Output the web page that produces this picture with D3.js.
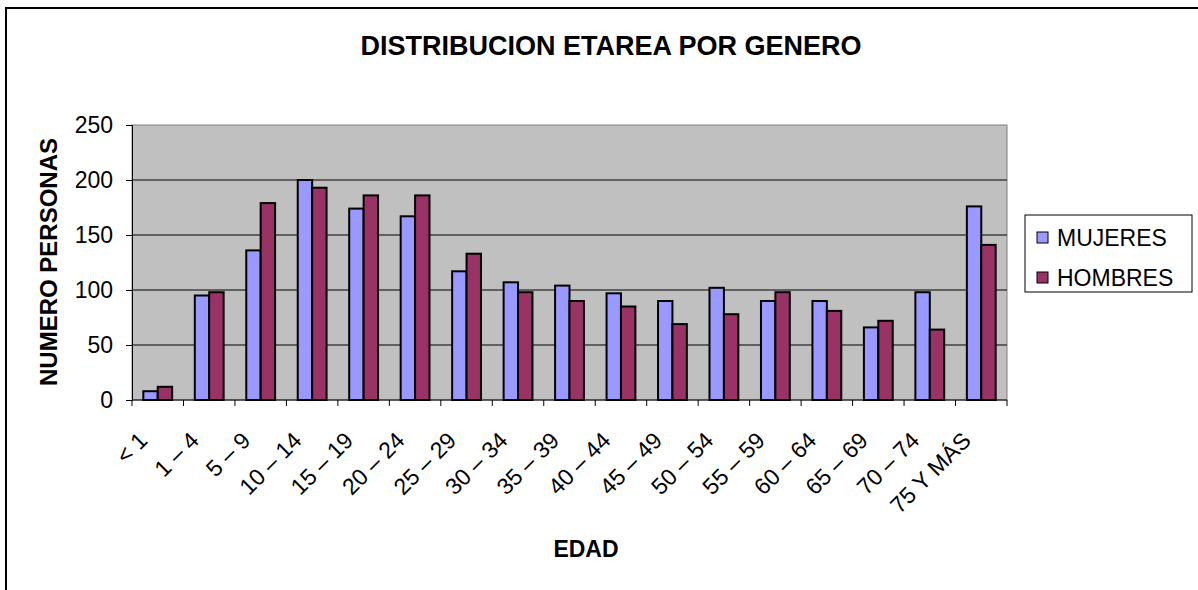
<!DOCTYPE html>
<html>
<head>
<meta charset="utf-8">
<script src="https://cdn.jsdelivr.net/npm/d3@7"></script>
<style>
  body { margin: 0; background: #fff; }
  text { font-family: Arial, "Liberation Sans", sans-serif; }
</style>
</head>
<body>
<div id="chart"></div>
<script>
// data
const edades = ['< 1', '1 – 4', '5 – 9', '10 – 14', '15 – 19', '20 – 24', '25 – 29', '30 – 34',
  '35 – 39', '40 – 44', '45 – 49', '50 – 54', '55 – 59', '60 – 64', '65 – 69', '70 – 74', '75 Y MÁS']
const mujeres = [8, 95, 136, 200, 174, 167, 117, 107, 104, 97, 90, 102, 90, 90, 66, 98, 176]
const hombres = [12, 98, 179, 193, 186, 186, 133, 98, 90, 85, 69, 78, 98, 81, 72, 64, 141]
const series = ['MUJERES', 'HOMBRES']
const yTicks = [0, 50, 100, 150, 200, 250]

const width = 1198, height = 590
const plot = { left: 132, right: 1007, top: 125, bottom: 400 }

const svg = d3.select('#chart').append('svg')
  .attr('width', width)
  .attr('height', height)

// outer frame
svg.append('rect')
  .attr('x', 6).attr('y', 8)
  .attr('width', width + 20).attr('height', height + 20)
  .attr('fill', 'none')
  .attr('stroke', '#000')
  .attr('stroke-width', 2)

const x = d3.scaleBand()
  .domain(edades)
  .range([plot.left, plot.right])
  .paddingInner(0.44)
  .paddingOuter(0.22)

const xs = d3.scaleBand()
  .domain(series)
  .range([0, x.bandwidth()])

const y = d3.scaleLinear()
  .domain([0, 250])
  .range([plot.bottom, plot.top])

const colors = { MUJERES: '#9999FF', HOMBRES: '#993366' }

// plot background
svg.append('rect')
  .attr('x', plot.left).attr('y', plot.top)
  .attr('width', plot.right - plot.left).attr('height', plot.bottom - plot.top)
  .attr('fill', '#C0C0C0')
  .attr('stroke', '#808080')

// gridlines
svg.append('g')
  .selectAll('line')
  .data(yTicks.slice(1, -1))
  .enter().append('line')
  .attr('x1', plot.left).attr('x2', plot.right)
  .attr('y1', d => y(d)).attr('y2', d => y(d))
  .attr('stroke', '#000')
  .attr('stroke-width', 1)

// bars
const rows = edades.map((e, i) => ({ edad: e, MUJERES: mujeres[i], HOMBRES: hombres[i] }))
svg.append('g')
  .selectAll('g')
  .data(rows)
  .enter().append('g')
  .attr('transform', d => `translate(${x(d.edad)},0)`)
  .selectAll('rect')
  .data(d => series.map(s => ({ key: s, value: d[s] })))
  .enter().append('rect')
  .attr('x', d => xs(d.key))
  .attr('y', d => y(d.value))
  .attr('width', xs.bandwidth())
  .attr('height', d => y(0) - y(d.value))
  .attr('fill', d => colors[d.key])
  .attr('stroke', '#000')
  .attr('stroke-width', 2)

// y axis
const yAxis = svg.append('g')
  .attr('transform', `translate(${plot.left},0)`)
  .call(d3.axisLeft(y).tickValues(yTicks).tickSize(6).tickPadding(13))
yAxis.selectAll('text').style('font-size', '23px').attr('fill', '#000')
yAxis.selectAll('line, path').attr('stroke', '#000')

// x axis: ticks at category boundaries
const step = x.step()
const xAxis = svg.append('g').attr('transform', `translate(0,${plot.bottom})`)
xAxis.append('line')
  .attr('x1', plot.left).attr('x2', plot.right)
  .attr('stroke', '#000')
xAxis.selectAll('line.tick')
  .data(d3.range(edades.length + 1))
  .enter().append('line')
  .attr('class', 'tick')
  .attr('x1', i => plot.left + i * step).attr('x2', i => plot.left + i * step)
  .attr('y1', 0).attr('y2', 6)
  .attr('stroke', '#000')
xAxis.selectAll('text')
  .data(edades)
  .enter().append('text')
  .attr('transform', d => `translate(${x(d) + x.bandwidth() / 2 - 9},${42}) rotate(-45)`)
  .attr('text-anchor', 'end')
  .style('font-size', '23px')
  .text(d => d)

// titles
svg.append('text')
  .attr('x', 611).attr('y', 55)
  .attr('text-anchor', 'middle')
  .style('font-size', '27px').style('font-weight', 'bold')
  .text('DISTRIBUCION ETAREA POR GENERO')

svg.append('text')
  .attr('transform', `translate(57,262) rotate(-90)`)
  .attr('text-anchor', 'middle')
  .style('font-size', '24px').style('font-weight', 'bold')
  .text('NUMERO PERSONAS')

svg.append('text')
  .attr('x', 586).attr('y', 557)
  .attr('text-anchor', 'middle')
  .style('font-size', '23px').style('font-weight', 'bold')
  .text('EDAD')

// legend
const legend = svg.append('g').attr('transform', 'translate(1025,215)')
legend.append('rect')
  .attr('width', 167).attr('height', 77)
  .attr('fill', '#fff').attr('stroke', '#000')
series.forEach((s, i) => {
  const g = legend.append('g').attr('transform', `translate(0,${23 + i * 40})`)
  g.append('rect')
    .attr('x', 12).attr('y', -6)
    .attr('width', 11).attr('height', 11)
    .attr('fill', colors[s]).attr('stroke', '#000')
  g.append('text')
    .attr('x', 32).attr('dy', '0.35em')
    .style('font-size', '23px')
    .text(s)
})
</script>
</body>
</html>
